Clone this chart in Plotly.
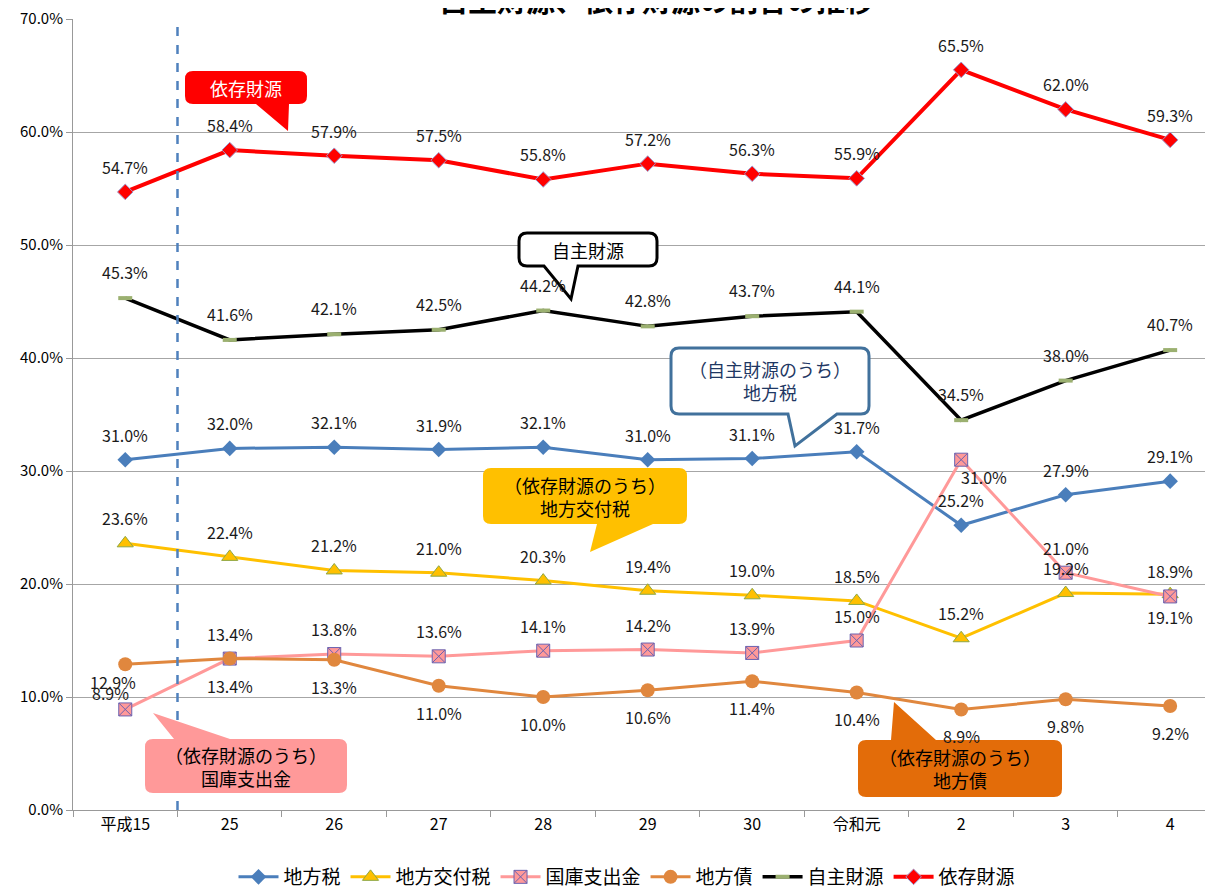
import plotly.graph_objects as go

# %%
# data (percent)
years = ["平成15", "25", "26", "27", "28", "29", "30", "令和元", "2", "3", "4"]
chihouzei = [31.0, 32.0, 32.1, 31.9, 32.1, 31.0, 31.1, 31.7, 25.2, 27.9, 29.1]
koufuzei = [23.6, 22.4, 21.2, 21.0, 20.3, 19.4, 19.0, 18.5, 15.2, 19.2, 19.1]
kokko = [8.9, 13.4, 13.8, 13.6, 14.1, 14.2, 13.9, 15.0, 31.0, 21.0, 18.9]
chihousai = [12.9, 13.4, 13.3, 11.0, 10.0, 10.6, 11.4, 10.4, 8.9, 9.8, 9.2]
jishu = [45.3, 41.6, 42.1, 42.5, 44.2, 42.8, 43.7, 44.1, 34.5, 38.0, 40.7]
izon = [54.7, 58.4, 57.9, 57.5, 55.8, 57.2, 56.3, 55.9, 65.5, 62.0, 59.3]

FONT = "Noto Sans CJK JP"

# the page body has an 8px margin, so the figure sits at (8, 8)
OFF = 8
# plot area in page pixels
L, R, T, B = 73, 1213, 19, 810


def px(x):
    return (x - L) / (R - L)


def py(y):
    return (B - y) / (B - T)


def callout(x0, y0, x1, y1, side, bx0, bx1, tx, ty, r=8):
    pts = [f"M {px(x0 + r)},{py(y0)}"]
    if side == "top":
        pts += [f"L {px(bx0)},{py(y0)}", f"L {px(tx)},{py(ty)}", f"L {px(bx1)},{py(y0)}"]
    pts += [f"L {px(x1 - r)},{py(y0)}", f"Q {px(x1)},{py(y0)} {px(x1)},{py(y0 + r)}",
            f"L {px(x1)},{py(y1 - r)}", f"Q {px(x1)},{py(y1)} {px(x1 - r)},{py(y1)}"]
    if side == "bottom":
        pts += [f"L {px(bx1)},{py(y1)}", f"L {px(tx)},{py(ty)}", f"L {px(bx0)},{py(y1)}"]
    pts += [f"L {px(x0 + r)},{py(y1)}", f"Q {px(x0)},{py(y1)} {px(x0)},{py(y1 - r)}",
            f"L {px(x0)},{py(y0 + r)}", f"Q {px(x0)},{py(y0)} {px(x0 + r)},{py(y0)}", "Z"]
    return " ".join(pts)


# %%
series = [
    ("地方税", chihouzei, dict(color="#4A7EBB", width=3),
     dict(symbol="diamond", size=12, color="#4A7EBB")),
    ("地方交付税", koufuzei, dict(color="#FFC000", width=3),
     dict(symbol="triangle-up", size=14, color="#FFC000", line=dict(color="#8EA744", width=1))),
    ("国庫支出金", kokko, dict(color="#FF9999", width=3),
     dict(symbol="square-x", size=13, color="#FF9999", line=dict(color="#6A62B0", width=1))),
    ("地方債", chihousai, dict(color="#E0873E", width=3),
     dict(symbol="circle", size=14, color="#E0873E")),
    ("自主財源", jishu, dict(color="#000000", width=3.5),
     dict(symbol="line-ew", size=10, line=dict(color="#9BB070", width=4))),
    ("依存財源", izon, dict(color="#FF0000", width=4),
     dict(symbol="diamond", size=12, color="#FF0000", line=dict(color="#9C9CD0", width=1))),
]

fig = go.Figure()
for name, vals, ln, mk in series:
    fig.add_trace(go.Scatter(x=years, y=vals, name=name, mode="lines+markers",
                             line=ln, marker=mk, cliponaxis=False))

# data label offsets (xshift, yshift) in px
default_shift = {"地方税": (0, 25), "地方交付税": (0, 25), "国庫支出金": (0, 25),
                 "地方債": (0, -27), "自主財源": (0, 26), "依存財源": (0, 25)}
special_shift = {("地方交付税", 10): (0, -23),
                 ("国庫支出金", 0): (-15, 16), ("国庫支出金", 8): (23, -17),
                 ("地方債", 0): (-12, -18)}

for name, vals, _, _ in series:
    for i, v in enumerate(vals):
        dx, dy = special_shift.get((name, i), default_shift[name])
        # category index as x so labels like "2" are not read as positions
        fig.add_annotation(x=i, y=v, text=f"{v:.1f}%", showarrow=False,
                           xshift=dx, yshift=dy, font=dict(family=FONT, size=16, color="#1a1a1a"))

# dashed divider between 平成15 and 25
fig.add_shape(type="line", xref="x", yref="y", x0=0.5, x1=0.5, y0=0, y1=70.5,
              line=dict(color="#4F81BD", width=2.5, dash="dash"))

# callout boxes
boxes = [
    # x0, y0, x1, y1, side, tail base x0, x1, tip x, y, fill, border, text, text color
    (185, 71, 307, 104, "bottom", 256, 289, 288, 131, "#FF0000", None, "依存財源", "white"),
    (519, 233, 657, 266, "bottom", 544, 578, 571, 299, "white", "#000000", "自主財源", "black"),
    (671, 348, 869, 414, "bottom", 788, 837, 795, 446, "white", "#41719C",
     "（自主財源のうち）<br>地方税", "#1F3864"),
    (483, 468, 687, 524, "bottom", 597, 653, 590, 552, "#FFC000", None,
     "（依存財源のうち）<br>地方交付税", "black"),
    (145, 739, 347, 793, "top", 174, 230, 153, 713, "#FF9999", None,
     "（依存財源のうち）<br>国庫支出金", "black"),
    (858, 740, 1062, 797, "top", 891, 936, 894, 702, "#E36C09", None,
     "（依存財源のうち）<br>地方債", "black"),
]
for x0, y0, x1, y1, side, bx0, bx1, tx, ty, fill, border, txt, tcol in boxes:
    fig.add_shape(type="path", xref="paper", yref="paper",
                  path=callout(x0, y0, x1, y1, side, bx0, bx1, tx, ty),
                  fillcolor=fill, layer="above",
                  line=dict(color=border if border else fill, width=3 if border else 0))
    fig.add_annotation(xref="paper", yref="paper", x=px((x0 + x1) / 2), y=py((y0 + y1) / 2),
                       xanchor="center", yanchor="middle", text=txt, showarrow=False,
                       font=dict(family=FONT, size=18, color=tcol))

# title, mostly cut off by the top of the page like in the original
fig.add_annotation(xref="paper", yref="paper", x=px(656), y=py(-1), xanchor="center", yanchor="middle",
                   text="<b>自主財源、依存財源の割合の推移</b>",
                   showarrow=False, font=dict(family=FONT, size=29, color="black"))

fig.update_layout(
    width=1213, height=886,
    margin=dict(l=L - OFF, r=1213 - (R - OFF), t=T - OFF, b=886 - (B - OFF), autoexpand=False),
    plot_bgcolor="white", paper_bgcolor="white",
    font=dict(family=FONT, size=15, color="black"),
    legend=dict(orientation="h", x=px(627), xanchor="center", y=py(877), yanchor="middle",
                font=dict(size=19), itemwidth=40),
    showlegend=True,
)
fig.update_xaxes(type="category", range=[-0.5, 10.41], tickson="boundaries", ticks="outside",
                 ticklen=6, tickcolor="#999999", showline=True, linecolor="#999999",
                 showgrid=False, tickfont=dict(size=16))
fig.update_yaxes(range=[0, 70], dtick=10, tickformat=".1f", ticksuffix="%", ticks="outside",
                 ticklen=6, tickcolor="#999999", showline=True, linecolor="#999999",
                 gridcolor="#A6A6A6", zeroline=False, tickfont=dict(size=15),
                 ticklabeloverflow="allow")

fig.write_html("out.html")
